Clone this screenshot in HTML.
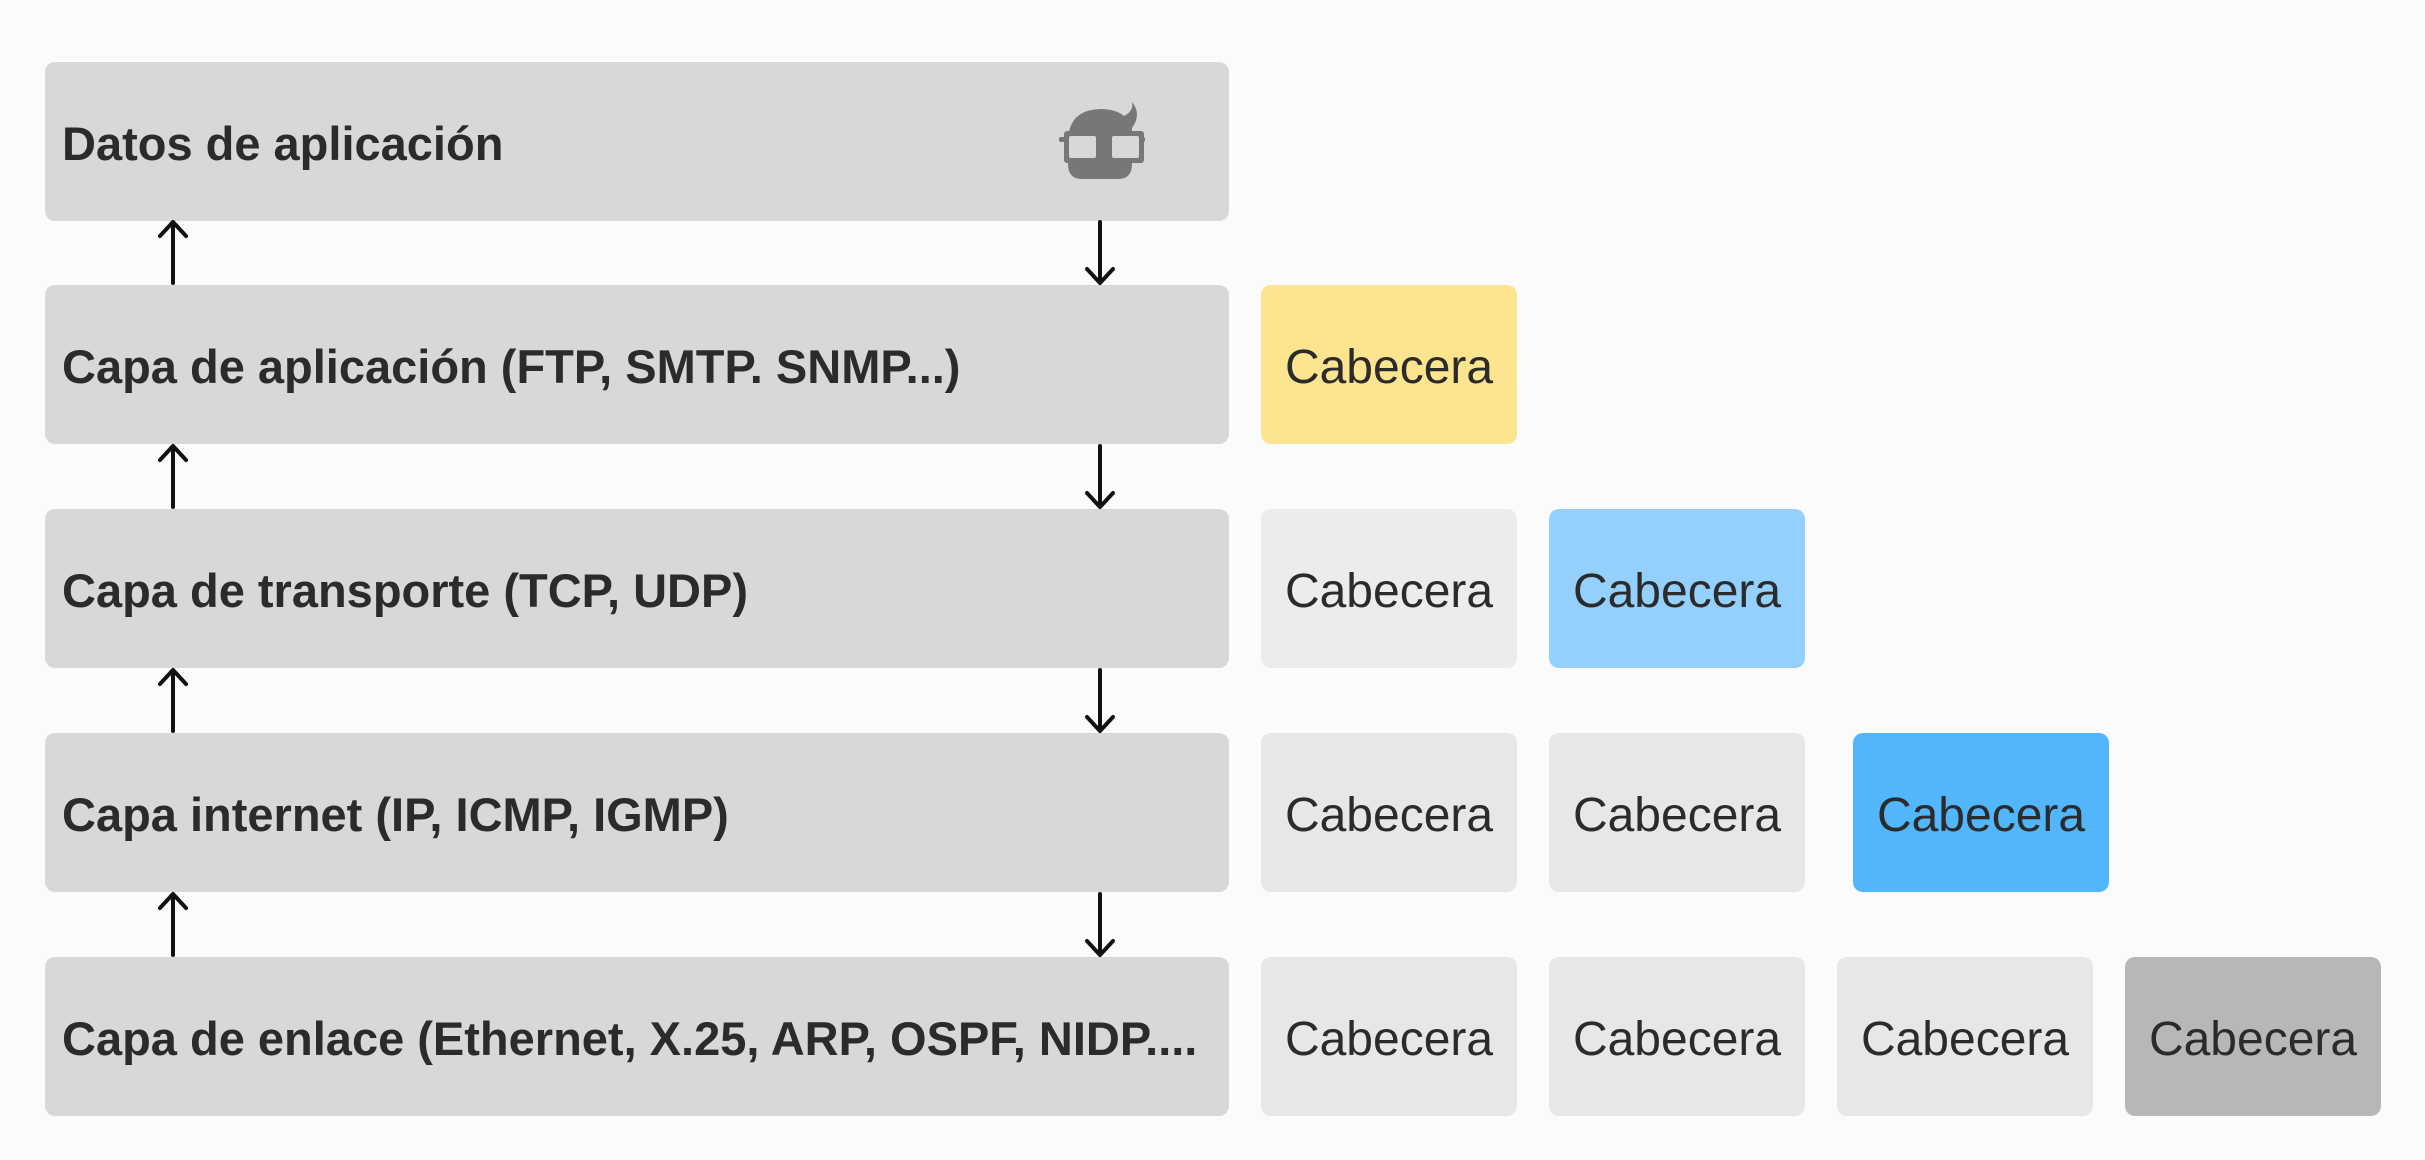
<!DOCTYPE html>
<html><head><meta charset="utf-8"><style>
body{margin:0;width:2425px;height:1160px;background:#fbfbfb;position:relative;overflow:hidden;font-family:"Liberation Sans",sans-serif;}
.row{position:absolute;left:45px;width:1184px;height:159px;background:#d8d8d8;border-radius:10px;}
.row span{position:absolute;left:17px;top:3px;line-height:158px;font-weight:bold;font-size:47px;color:#2b2b2b;white-space:nowrap;overflow:hidden;max-width:1160px;letter-spacing:0px;}
.h{position:absolute;width:256px;height:159px;border-radius:10px;background:#e7e7e7;text-align:center;line-height:166px;font-size:48px;color:#2b2b2b;}
svg{position:absolute;left:0;top:0}
</style></head><body>
<div class="row" style="top:62px"><span>Datos de aplicación</span></div>
<div class="row" style="top:285px"><span>Capa de aplicación (FTP, SMTP. SNMP...)</span></div>
<div class="row" style="top:509px"><span>Capa de transporte (TCP, UDP)</span></div>
<div class="row" style="top:733px"><span>Capa internet (IP, ICMP, IGMP)</span></div>
<div class="row" style="top:957px"><span>Capa de enlace (Ethernet, X.25, ARP, OSPF, NIDP....</span></div>

<div class="h" style="left:1261px;top:285px;background:#fde58f">Cabecera</div>
<div class="h" style="left:1261px;top:509px;background:#ececec">Cabecera</div>
<div class="h" style="left:1549px;top:509px;background:#94d0fd">Cabecera</div>
<div class="h" style="left:1261px;top:733px">Cabecera</div>
<div class="h" style="left:1549px;top:733px">Cabecera</div>
<div class="h" style="left:1853px;top:733px;background:#52b6fd">Cabecera</div>
<div class="h" style="left:1261px;top:957px">Cabecera</div>
<div class="h" style="left:1549px;top:957px">Cabecera</div>
<div class="h" style="left:1837px;top:957px">Cabecera</div>
<div class="h" style="left:2125px;top:957px;background:#b7b7b7">Cabecera</div>

<svg width="2425" height="1160">
<g stroke="#111" stroke-width="4" fill="none" stroke-linecap="round" stroke-linejoin="round">
<path d="M173 283V222M160 236L173 222L186 236"/>
<path d="M173 507V446M160 460L173 446L186 460"/>
<path d="M173 731V670M160 684L173 670L186 684"/>
<path d="M173 955V894M160 908L173 894L186 908"/>
<path d="M1100 222V283M1087 269L1100 283L1113 269"/>
<path d="M1100 446V507M1087 493L1100 507L1113 493"/>
<path d="M1100 670V731M1087 717L1100 731L1113 717"/>
<path d="M1100 894V955M1087 941L1100 955L1113 941"/>
</g>
<g fill="#777">
<path d="M1068 142 Q1068 110 1100 109 Q1116 109 1124 116 Q1134 111 1132 102 Q1142 114 1132 128 L1132 164 Q1132 179 1118 179 L1082 179 Q1068 179 1068 164Z"/>
<rect x="1059" y="137" width="86" height="5" rx="2"/>
<rect x="1064" y="131" width="37" height="32" rx="3"/>
<rect x="1107" y="131" width="37" height="32" rx="3"/>
</g>
<rect x="1069" y="136" width="27" height="22" fill="#d8d8d8" rx="2"/>
<rect x="1112" y="136" width="27" height="22" fill="#d8d8d8" rx="2"/>
</svg>
</body></html>
